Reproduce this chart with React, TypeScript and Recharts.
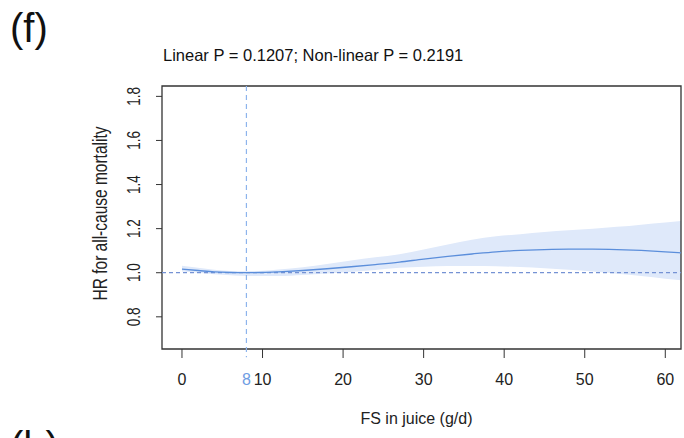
import React from 'react';
import {
  ComposedChart, Area, Line, XAxis, YAxis, ReferenceLine, ReferenceArea,
} from 'recharts';

const xValues = [0, 2, 4, 6, 8, 10, 12, 15, 18, 21, 24, 27, 30, 33, 36, 39, 42, 45, 48, 51, 54, 57, 60, 62];
const hrValues = [1.016, 1.01, 1.004, 1.001, 1.0, 1.001, 1.004, 1.01, 1.018, 1.027, 1.037, 1.048, 1.062, 1.074, 1.085, 1.095, 1.101, 1.105, 1.107, 1.107, 1.105, 1.101, 1.095, 1.09];
const upperValues = [1.032, 1.022, 1.013, 1.008, 1.007, 1.009, 1.015, 1.025, 1.04, 1.056, 1.07, 1.084, 1.105, 1.128, 1.15, 1.165, 1.175, 1.185, 1.193, 1.2, 1.208, 1.218, 1.228, 1.235];
const lowerValues = [1.005, 1.0, 0.993, 0.988, 0.985, 0.985, 0.985, 0.99, 0.996, 1.003, 1.012, 1.022, 1.027, 1.03, 1.03, 1.029, 1.026, 1.02, 1.013, 1.005, 0.995, 0.985, 0.973, 0.966];

const xTicks = [0, 10, 20, 30, 40, 50, 60];
const yTicks = [0.8, 1.0, 1.2, 1.4, 1.6, 1.8];
const xDomain: [number, number] = [-2.48, 61.95];
const yDomain: [number, number] = [0.654, 1.847];
const refX = 8;
const refY = 1.0;

const titleText = 'Linear P = 0.1207; Non-linear P = 0.2191';
const panelLabel = '(f)';
const nextPanelLabel = '(h)';
const xLabel = 'FS in juice (g/d)';
const yLabel = 'HR for all-cause mortality';

const data = xValues.map((x, i) => ({
  x,
  hr: hrValues[i],
  band: [lowerValues[i], upperValues[i]],
}));

const FONT = '"Liberation Sans", Arial, Helvetica, sans-serif';

const YTick = (props: any) => {
  const { x, y, payload } = props;
  return (
    <text
      transform={`translate(${x},${y}) scale(1.35,1) rotate(-90)`}
      textAnchor="middle"
      fontSize={13.5}
      fontFamily={FONT}
      fill="#222"
    >
      {payload.value.toFixed(1)}
    </text>
  );
};

const XTick = (props: any) => {
  const { x, y, payload } = props;
  return (
    <text x={x} y={y} dy={14} textAnchor="middle" fontSize={16} fontFamily={FONT} fill="#222">
      {payload.value}
    </text>
  );
};

export default function App() {
  return (
    <div style={{ position: 'absolute', left: 0, top: 0, width: 684, height: 438, background: '#fff', overflow: 'hidden' }}>
      <svg width={684} height={438} style={{ position: 'absolute', left: 0, top: 0 }}>
        <text x={10} y={42} fontSize={40} fontFamily={FONT} fill="#111">{panelLabel}</text>
        <text x={10} y={460} fontSize={40} fontFamily={FONT} fill="#111">{nextPanelLabel}</text>
        <text x={163} y={61} fontSize={16.5} fontFamily={FONT} fill="#111">{titleText}</text>
      </svg>
      <div style={{ position: 'absolute', left: 0, top: 0 }}>
        <ComposedChart
          width={684}
          height={438}
          data={data}
          margin={{ top: 86, right: 3, bottom: 49, left: 102 }}
        >
          <XAxis
            dataKey="x"
            type="number"
            domain={xDomain}
            allowDataOverflow
            ticks={xTicks}
            interval={0}
            axisLine={false}
            tickSize={9}
            tickMargin={13}
            tickLine={{ stroke: '#333', strokeWidth: 1 }}
            tick={<XTick />}
            height={40}
            label={{
              value: xLabel,
              content: (p: any) => {
                const vb = p.viewBox;
                return (
                  <text x={vb.x + vb.width / 2 - 5} y={vb.y + 75} textAnchor="middle" fontSize={16} fontFamily={FONT} fill="#222">
                    {xLabel}
                  </text>
                );
              },
            }}
          />
          <YAxis
            type="number"
            domain={yDomain}
            allowDataOverflow
            ticks={yTicks}
            interval={0}
            axisLine={false}
            tickSize={6}
            tickMargin={16}
            tickLine={{ stroke: '#333', strokeWidth: 1 }}
            tick={<YTick />}
            width={60}
            label={{
              value: yLabel,
              content: (p: any) => {
                const vb = p.viewBox;
                const cy = vb.y + vb.height / 2 - 4;
                return (
                  <text
                    transform={`translate(${107},${cy}) scale(1.3,1) rotate(-90)`}
                    textAnchor="middle"
                    fontSize={15.5}
                    fontFamily={FONT}
                    fill="#222"
                  >
                    {yLabel}
                  </text>
                );
              },
            }}
          />
          <Area
            dataKey="band"
            type="monotone"
            stroke="none"
            fill="#dfe9fa"
            fillOpacity={1}
            isAnimationActive={false}
            activeDot={false}
          />
          <ReferenceLine y={refY} stroke="#7592d4" strokeDasharray="4 3" strokeWidth={1.2} />
          <ReferenceLine
            segment={[{ x: refX, y: yDomain[1] }, { x: refX, y: 0.617 }]}
            ifOverflow="visible"
            stroke="#8db4ec"
            strokeDasharray="5 4"
            strokeWidth={1.2}
            label={{
              value: String(refX),
              content: (p: any) => {
                const vb = p.viewBox;
                return (
                  <text x={vb.x} y={385} textAnchor="middle" fontSize={16} fontFamily={FONT} fill="#6f9de3">
                    {refX}
                  </text>
                );
              },
            }}
          />
          <Line
            dataKey="hr"
            type="monotone"
            stroke="#5b8edb"
            strokeWidth={1.3}
            dot={false}
            activeDot={false}
            isAnimationActive={false}
          />
          <ReferenceArea
            x1={xDomain[0]}
            x2={xDomain[1]}
            y1={yDomain[0]}
            y2={yDomain[1]}
            fill="none"
            stroke="#333"
            strokeWidth={1.3}
            ifOverflow="visible"
          />
        </ComposedChart>
      </div>
    </div>
  );
}
